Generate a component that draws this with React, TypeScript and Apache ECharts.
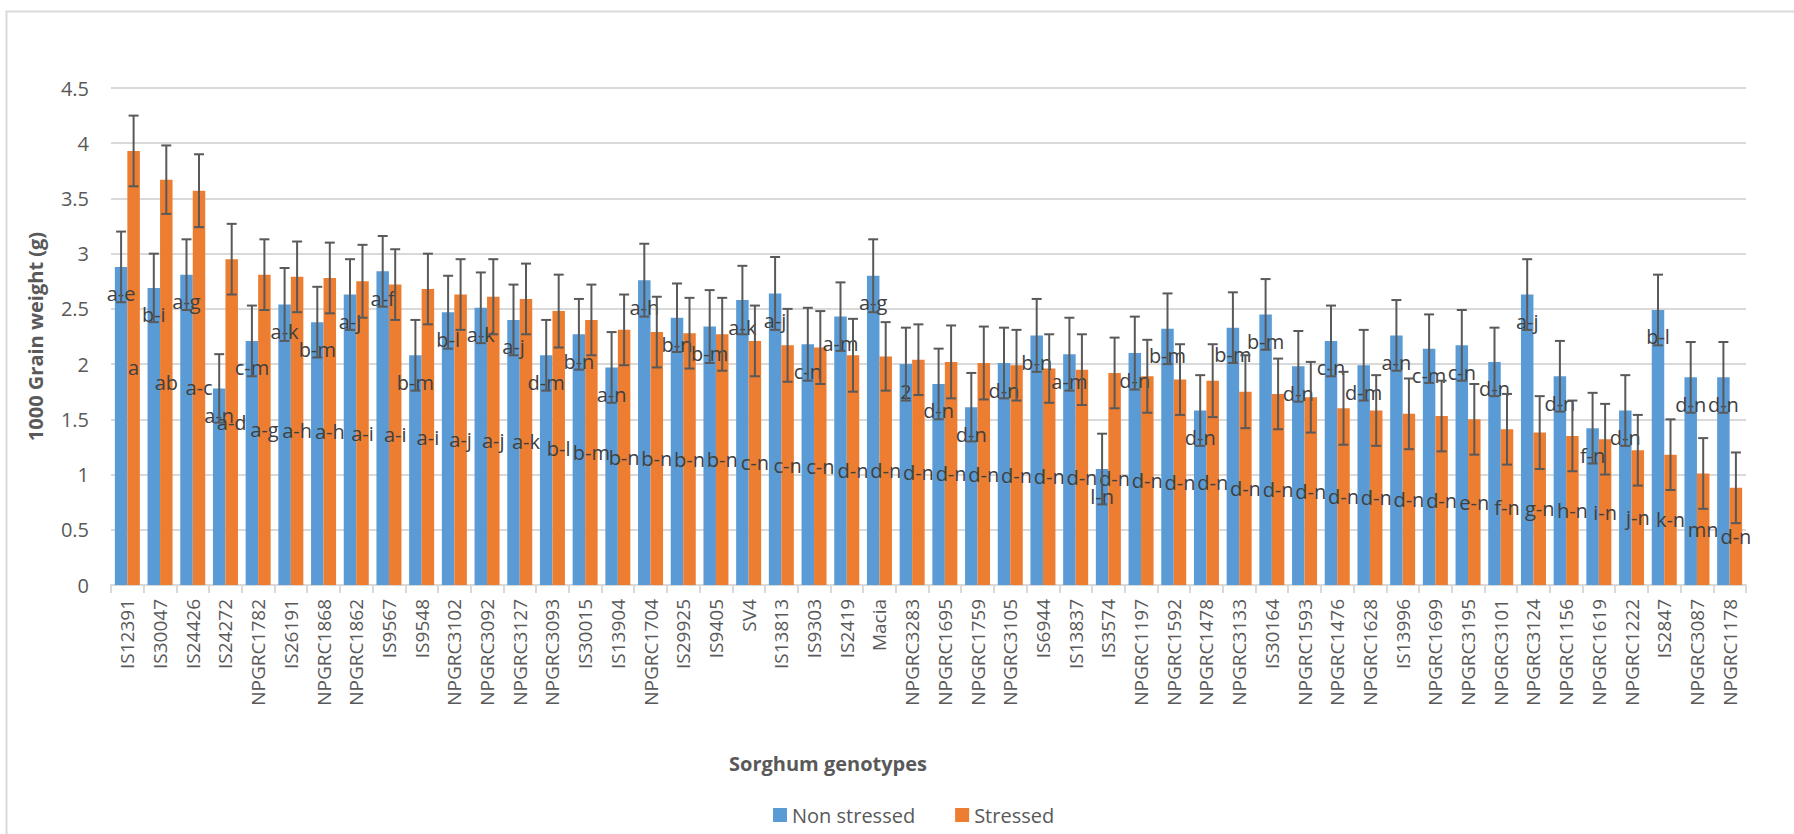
import React, { useEffect, useRef } from "react";
import * as echarts from "echarts";

const categories = [
  "IS12391", "IS30047", "IS24426", "IS24272", "NPGRC1782", "IS26191", "NPGRC1868", "NPGRC1862", "IS9567", "IS9548",
  "NPGRC3102", "NPGRC3092", "NPGRC3127", "NPGRC3093", "IS30015", "IS13904", "NPGRC1704", "IS29925", "IS9405", "SV4",
  "IS13813", "IS9303", "IS2419", "Macia", "NPGRC3283", "NPGRC1695", "NPGRC1759", "NPGRC3105", "IS6944", "IS13837",
  "IS3574", "NPGRC1197", "NPGRC1592", "NPGRC1478", "NPGRC3133", "IS30164", "NPGRC1593", "NPGRC1476", "NPGRC1628", "IS13996",
  "NPGRC1699", "NPGRC3195", "NPGRC3101", "NPGRC3124", "NPGRC1156", "NPGRC1619", "NPGRC1222", "IS2847", "NPGRC3087", "NPGRC1178",
];

const nonStressed = [
  2.88, 2.69, 2.81, 1.78, 2.21, 2.54, 2.38, 2.63, 2.84, 2.08,
  2.47, 2.51, 2.40, 2.08, 2.27, 1.97, 2.76, 2.42, 2.34, 2.58,
  2.64, 2.18, 2.43, 2.80, 2.00, 1.82, 1.61, 2.01, 2.26, 2.09,
  1.05, 2.10, 2.32, 1.58, 2.33, 2.45, 1.98, 2.21, 1.99, 2.26,
  2.14, 2.17, 2.02, 2.63, 1.89, 1.42, 1.58, 2.49, 1.88, 1.88,
];

const stressed = [
  3.93, 3.67, 3.57, 2.95, 2.81, 2.79, 2.78, 2.75, 2.72, 2.68,
  2.63, 2.61, 2.59, 2.48, 2.40, 2.31, 2.29, 2.28, 2.27, 2.21,
  2.17, 2.15, 2.08, 2.07, 2.04, 2.02, 2.01, 1.99, 1.96, 1.95,
  1.92, 1.89, 1.86, 1.85, 1.75, 1.73, 1.70, 1.60, 1.58, 1.55,
  1.53, 1.50, 1.41, 1.38, 1.35, 1.32, 1.22, 1.18, 1.01, 0.88,
];

const errNonStressed = [
  0.32, 0.31, 0.32, 0.31, 0.32, 0.33, 0.32, 0.32, 0.32, 0.32,
  0.33, 0.32, 0.32, 0.32, 0.32, 0.32, 0.33, 0.31, 0.33, 0.31,
  0.33, 0.33, 0.31, 0.33, 0.33, 0.32, 0.31, 0.32, 0.33, 0.33,
  0.32, 0.33, 0.32, 0.32, 0.32, 0.32, 0.32, 0.32, 0.32, 0.32,
  0.31, 0.32, 0.31, 0.32, 0.32, 0.32, 0.32, 0.32, 0.32, 0.32,
];

const errStressed = [
  0.32, 0.31, 0.33, 0.32, 0.32, 0.32, 0.32, 0.33, 0.32, 0.32,
  0.32, 0.34, 0.32, 0.33, 0.32, 0.32, 0.32, 0.32, 0.33, 0.32,
  0.33, 0.33, 0.33, 0.31, 0.32, 0.33, 0.33, 0.32, 0.31, 0.32,
  0.32, 0.33, 0.32, 0.33, 0.33, 0.32, 0.32, 0.33, 0.32, 0.32,
  0.32, 0.32, 0.32, 0.33, 0.32, 0.32, 0.32, 0.32, 0.32, 0.32,
];

const lettersNonStressed = [
  "a-e", "b-i", "a-g", "a-n", "c-m", "a-k", "b-m", "a-j", "a-f", "b-m",
  "b-l", "a-k", "a-j", "d-m", "b-n", "a-n", "a-h", "b-n", "b-m", "a-k",
  "a-j", "c-n", "a-m", "a-g", "2", "d-n", "d-n", "d-n", "b-n", "a-m",
  "l-n", "d-n", "b-m", "d-n", "b-m", "b-m", "d-n", "c-n", "d-m", "a-n",
  "c-m", "c-n", "d-n", "a-j", "d-n", "f-n", "d-n", "b-l", "d-n", "d-n",
];

const lettersStressed = [
  "a", "ab", "a-c", "a-d", "a-g", "a-h", "a-h", "a-i", "a-i", "a-i",
  "a-j", "a-j", "a-k", "b-l", "b-m", "b-n", "b-n", "b-n", "b-n", "c-n",
  "c-n", "c-n", "d-n", "d-n", "d-n", "d-n", "d-n", "d-n", "d-n", "d-n",
  "d-n", "d-n", "d-n", "d-n", "d-n", "d-n", "d-n", "d-n", "d-n", "d-n",
  "d-n", "e-n", "f-n", "g-n", "h-n", "i-n", "j-n", "k-n", "mn", "d-n",
];

const yTicks = { min: 0, max: 4.5, interval: 0.5 };

const FONT = "'Open Sans', 'Noto Sans', sans-serif";
const BLUE = "#5B9BD5";
const ORANGE = "#ED7D31";
const BAR_W = 12.5;

function errorSeries(name: string, values: number[], errs: number[], offset: number) {
  return {
    type: "custom",
    name: name + " error",
    z: 4,
    silent: true,
    encode: { x: 0, y: 1 },
    data: values.map((v, i) => [i, v, errs[i]]),
    renderItem: (params: any, api: any) => {
      const idx = api.value(0);
      const v = api.value(1);
      const e = api.value(2);
      const top = api.coord([idx, v + e]);
      const bot = api.coord([idx, v - e]);
      const x = top[0] + offset;
      const cap = 5;
      const style = { stroke: "#595959", lineWidth: 2 };
      return {
        type: "group",
        children: [
          { type: "line", shape: { x1: x, y1: top[1], x2: x, y2: bot[1] }, style },
          { type: "line", shape: { x1: x - cap, y1: top[1], x2: x + cap, y2: top[1] }, style },
          { type: "line", shape: { x1: x - cap, y1: bot[1], x2: x + cap, y2: bot[1] }, style },
        ],
      };
    },
  };
}

export default function App() {
  const ref = useRef<HTMLDivElement>(null);
  useEffect(() => {
    if (!ref.current) return;
    const chart = echarts.init(ref.current, null, { renderer: "svg" });
    chart.setOption({
      animation: false,
      backgroundColor: "#ffffff",
      textStyle: { fontFamily: FONT },
      grid: { left: 111, right: 48, top: 88, bottom: 249, containLabel: false },
      legend: {
        data: ["Non stressed", "Stressed"],
        left: 768,
        top: 800,
        itemWidth: 14,
        itemHeight: 14,
        itemGap: 40,
        icon: "rect",
        textStyle: { fontSize: 20, color: "#595959", fontFamily: FONT },
      },
      graphic: [
        {
          type: "rect",
          shape: { x: 6.5, y: 11.5, width: 2000, height: 1000 },
          style: { fill: "none", stroke: "#d9d9d9", lineWidth: 2 },
          silent: true,
        },
        {
          type: "text",
          x: 828,
          y: 763,
          style: {
            text: "Sorghum genotypes",
            fontSize: 20,
            fontWeight: "bold",
            fill: "#595959",
            fontFamily: FONT,
            textAlign: "center",
            textVerticalAlign: "middle",
          },
        },
      ],
      xAxis: {
        type: "category",
        data: categories,
        axisLine: { lineStyle: { color: "#d9d9d9", width: 2 } },
        axisTick: { show: true, length: 8, lineStyle: { color: "#d9d9d9", width: 2 } },
        axisLabel: { rotate: 90, interval: 0, fontSize: 19, color: "#595959", margin: 14, fontFamily: FONT },
      },
      yAxis: {
        type: "value",
        min: yTicks.min,
        max: yTicks.max,
        interval: yTicks.interval,
        name: "1000 Grain weight (g)",
        nameLocation: "middle",
        nameGap: 66,
        nameTextStyle: { fontSize: 20, fontWeight: "bold", color: "#595959", fontFamily: FONT },
        axisLine: { show: false },
        axisTick: { show: false },
        splitLine: { lineStyle: { color: "#d9d9d9", width: 2 } },
        axisLabel: { fontSize: 20, color: "#595959", margin: 22, fontFamily: FONT },
      },
      series: [
        {
          type: "bar",
          name: "Non stressed",
          data: nonStressed,
          barWidth: BAR_W,
          barGap: "0%",
          itemStyle: { color: BLUE },
          z: 2,
          label: {
            show: true,
            position: "insideTop",
            distance: 17,
            fontSize: 20,
            color: "#404040",
            fontFamily: FONT,
            formatter: (p: any) => lettersNonStressed[p.dataIndex],
          },
        },
        {
          type: "bar",
          name: "Stressed",
          data: stressed,
          barWidth: BAR_W,
          barGap: "0%",
          itemStyle: { color: ORANGE },
          z: 2,
          label: {
            show: true,
            position: "inside",
            fontSize: 20,
            color: "#404040",
            fontFamily: FONT,
            formatter: (p: any) => lettersStressed[p.dataIndex],
          },
        },
        errorSeries("Non stressed", nonStressed, errNonStressed, -BAR_W / 2),
        errorSeries("Stressed", stressed, errStressed, BAR_W / 2),
      ],
    });
    return () => chart.dispose();
  }, []);
  return (
    <div
      ref={ref}
      style={{ position: "fixed", left: 0, top: 0, width: 1794, height: 834, background: "#fff" }}
    />
  );
}
